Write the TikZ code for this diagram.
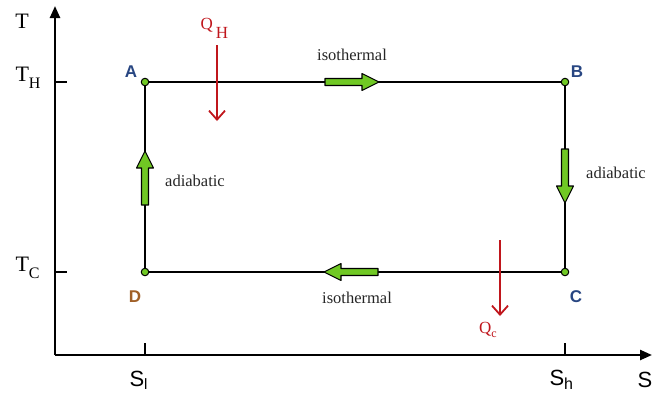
\documentclass[tikz,border=0pt]{standalone}
\usepackage{fontspec}
\setmainfont{Liberation Serif}
\newfontfamily\labelsans{Liberation Sans}
\usetikzlibrary{arrows.meta}

\definecolor{cyclegreen}{RGB}{112,200,36}
\definecolor{heatred}{RGB}{192,22,28}
\definecolor{statelbl}{RGB}{40,70,130}
\definecolor{statelbld}{RGB}{160,96,40}

\tikzset{
  axis/.style={line width=2.4pt, -{Triangle[length=12pt,width=10pt]}},
  tickmark/.style={line width=1.8pt},
  cycleline/.style={line width=2.3pt},
  statept/.style={circle, draw=black, line width=1pt, fill=cyclegreen, inner sep=0pt, minimum size=7.5pt},
  statename/.style={font=\labelsans\bfseries\fontsize{17}{17}\selectfont, text=statelbl},
  heat/.style={draw=heatred, line width=1.8pt, -{Straight Barb[length=9pt,width=16pt,line width=1.8pt]}},
  heatlbl/.style={text=heatred, font=\fontsize{17}{17}\selectfont},
  proclbl/.style={font=\fontsize{16.5}{16.5}\selectfont, text=black!85},
  axlbl/.style={font=\fontsize{22}{22}\selectfont},
  sublbl/.style={font=\labelsans\fontsize{22}{22}\selectfont},
  fatarrow/.pic={
    \draw[fill=cyclegreen, line width=1.1pt, line join=round]
      (0,-3.5) -- (37,-3.5) -- (37,-8.5) -- (54,0) -- (37,8.5) -- (37,3.5) -- (0,3.5) -- cycle;
  }
}

\begin{document}
\begin{tikzpicture}[x=1pt,y=-1pt]
\useasboundingbox (0,0) rectangle (654,400);

% axes
\coordinate (O) at (55,355);
\coordinate (Ttop) at (55,6);
\coordinate (Send) at (652,355);
\draw[axis] (O) -- (Ttop);
\draw[axis] (O) -- (Send);

% axis ticks
\coordinate (tTH) at (55,82);  \coordinate (tTHe) at (67,82);
\coordinate (tTC) at (55,272); \coordinate (tTCe) at (67,272);
\coordinate (tSl) at (145,355); \coordinate (tSle) at (145,343);
\coordinate (tSh) at (565,355); \coordinate (tShe) at (565,343);
\draw[tickmark] (tTH) -- (tTHe);
\draw[tickmark] (tTC) -- (tTCe);
\draw[tickmark] (tSl) -- (tSle);
\draw[tickmark] (tSh) -- (tShe);

% axis labels
\node[axlbl] (Tlbl) at (22,21) {T};
\node[axlbl, anchor=west] (THlbl) at (12,78) {T\raisebox{-7pt}{\fontsize{16}{16}\selectfont H}};
\node[axlbl, anchor=west] (TClbl) at (12,268) {T\raisebox{-7pt}{\fontsize{16}{16}\selectfont C}};
\node[sublbl, anchor=west] (Sllbl) at (126,380) {S\raisebox{-3pt}{\fontsize{15}{15}\selectfont l}};
\node[sublbl, anchor=west] (Shlbl) at (546,380) {S\raisebox{-4pt}{\fontsize{16}{16}\selectfont h}};
\node[sublbl] (Slbl) at (645,380) {S};

% cycle states
\node[statept] (A) at (145,82) {};
\node[statept] (B) at (565,82) {};
\node[statept] (C) at (565,272) {};
\node[statept] (D) at (145,272) {};

\draw[cycleline] (A) -- (B) -- (C) -- (D) -- (A);

\node[statename] (Alb) at (131,72) {A};
\node[statename] (Blb) at (577,72) {B};
\node[statename] (Clb) at (576,297) {C};
\node[statename, text=statelbld] (Dlb) at (135,297) {D};

% direction arrows along the cycle
\pic at (325,82) {fatarrow};
\pic[rotate=-90] at (565,149) {fatarrow};
\pic[rotate=180] at (378,272) {fatarrow};
\pic[rotate=90] at (145,205) {fatarrow};

% process labels
\node[proclbl] (iso1) at (352,55) {isothermal};
\node[proclbl] (iso2) at (357,298) {isothermal};
\node[proclbl] (adi1) at (195,181) {adiabatic};
\node[proclbl] (adi2) at (616,173) {adiabatic};

% heat flows
\coordinate (qh0) at (217,45);
\coordinate (qh1) at (217,121);
\draw[heat] (qh0) -- (qh1);
\node[heatlbl, anchor=west] (QH) at (197,28) {Q\hspace{3pt}\raisebox{-9pt}{H}};

\coordinate (qc0) at (500,240);
\coordinate (qc1) at (500,316);
\draw[heat] (qc0) -- (qc1);
\node[heatlbl] (Qc) at (488,330) {Q\raisebox{-4pt}{\fontsize{12}{12}\selectfont c}};

\end{tikzpicture}
\end{document}
